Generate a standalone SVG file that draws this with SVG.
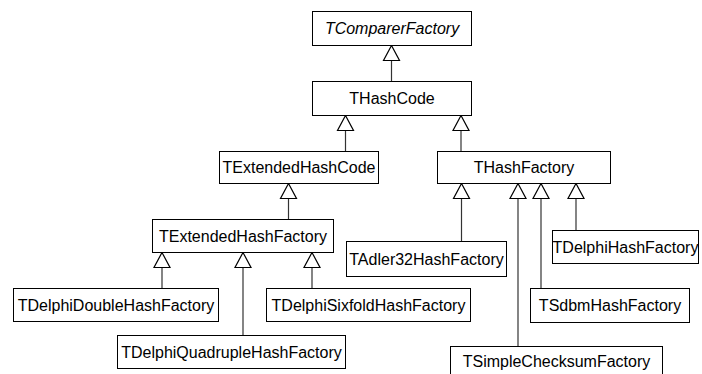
<svg xmlns="http://www.w3.org/2000/svg" width="702" height="374" viewBox="0 0 702 374">
<style>
.box{fill:#fff;stroke:#000;stroke-width:1}
.lbl{font-family:"Liberation Sans",Arial,sans-serif;font-size:16px;fill:#000;text-anchor:middle}
.it{font-style:italic}
.ln{stroke:#333;stroke-width:1.2;fill:none}
.tri{fill:#fff;stroke:#000;stroke-width:1.2}
</style>
<rect width="702" height="374" fill="#fff"/>
<g id="connectors">
<path class="ln" d="M391.5 60.5V81.5"/>
<path class="tri" d="M391.5 45.5L383.5 60.5H399.5Z"/>
<path class="ln" d="M345.5 130.5V151.5"/>
<path class="tri" d="M345.5 115.5L337.5 130.5H353.5Z"/>
<path class="ln" d="M461 130.5V151.5"/>
<path class="tri" d="M461 115.5L453 130.5H469Z"/>
<path class="ln" d="M288.5 198.5V219.5"/>
<path class="tri" d="M288.5 183.5L280.5 198.5H296.5Z"/>
<path class="ln" d="M162 267.5V288.5"/>
<path class="tri" d="M162 252.5L154 267.5H170Z"/>
<path class="ln" d="M243 267.5V335.5"/>
<path class="tri" d="M243 252.5L235 267.5H251Z"/>
<path class="ln" d="M312 267.5V288.5"/>
<path class="tri" d="M312 252.5L304 267.5H320Z"/>
<path class="ln" d="M461.5 198.5V241.5"/>
<path class="tri" d="M461.5 183.5L453.5 198.5H469.5Z"/>
<path class="ln" d="M518 198.5V346.5"/>
<path class="tri" d="M518 183.5L510 198.5H526Z"/>
<path class="ln" d="M541 198.5V288.5"/>
<path class="tri" d="M541 183.5L533 198.5H549Z"/>
<path class="ln" d="M576 198.5V230.5"/>
<path class="tri" d="M576 183.5L568 198.5H584Z"/>
</g>
<g id="TComparerFactory"><rect class="box" x="312.5" y="11.5" width="159" height="34"/><text class="lbl it" x="392" y="34">TComparerFactory</text></g>
<g id="THashCode"><rect class="box" x="312.5" y="81.5" width="159" height="34"/><text class="lbl" x="392" y="104">THashCode</text></g>
<g id="TExtendedHashCode"><rect class="box" x="219.5" y="151.5" width="159" height="32"/><text class="lbl" x="299" y="173">TExtendedHashCode</text></g>
<g id="THashFactory"><rect class="box" x="437.5" y="151.5" width="173" height="32"/><text class="lbl" x="524" y="173">THashFactory</text></g>
<g id="TExtendedHashFactory"><rect class="box" x="152.5" y="219.5" width="181" height="33"/><text class="lbl" x="243" y="241.5">TExtendedHashFactory</text></g>
<g id="TDelphiDoubleHashFactory"><rect class="box" x="13.5" y="288.5" width="205" height="33"/><text class="lbl" x="116" y="310.5">TDelphiDoubleHashFactory</text></g>
<g id="TDelphiSixfoldHashFactory"><rect class="box" x="266.5" y="288.5" width="204" height="33"/><text class="lbl" x="368.5" y="310.5">TDelphiSixfoldHashFactory</text></g>
<g id="TDelphiQuadrupleHashFactory"><rect class="box" x="117.5" y="335.5" width="228" height="33"/><text class="lbl" x="231.5" y="357.5">TDelphiQuadrupleHashFactory</text></g>
<g id="TAdler32HashFactory"><rect class="box" x="346.5" y="241.5" width="160" height="35"/><text class="lbl" x="426.5" y="264.5">TAdler32HashFactory</text></g>
<g id="TDelphiHashFactory"><rect class="box" x="552.5" y="230.5" width="146" height="33"/><text class="lbl" x="625.5" y="252.5">TDelphiHashFactory</text></g>
<g id="TSdbmHashFactory"><rect class="box" x="530.5" y="288.5" width="159" height="34"/><text class="lbl" x="610" y="311">TSdbmHashFactory</text></g>
<g id="TSimpleChecksumFactory"><rect class="box" x="450.5" y="346.5" width="212" height="40"/><text class="lbl" x="556.5" y="367">TSimpleChecksumFactory</text></g>
</svg>
